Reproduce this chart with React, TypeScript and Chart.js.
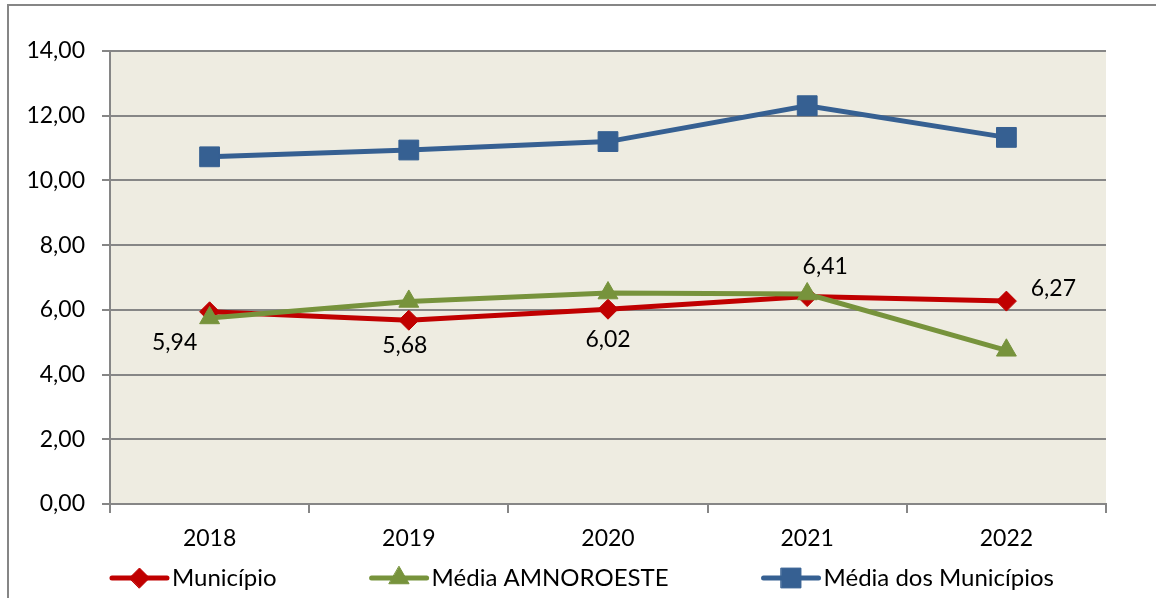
import React, { useEffect, useRef } from 'react';
import { Chart, registerables } from 'chart.js';
import { drawPoint } from 'chart.js/helpers';

Chart.register(...registerables);

const categories = ['2018', '2019', '2020', '2021', '2022'];
const seriesNames = ['Município', 'Média AMNOROESTE', 'Média dos Municípios'];
const municipio = [5.94, 5.68, 6.02, 6.41, 6.27];
const mediaAmnoroeste = [5.75, 6.26, 6.52, 6.49, 4.75];
const mediaMunicipios = [10.73, 10.94, 11.2, 12.31, 11.33];
const yMin = 0;
const yMax = 14;
const yStep = 2;

// styling (not data)
const FONT = 'Lato';
const FS = 23;
const LEGEND_FS = 24;
const GRID = '#868686';
const COLORS = ['#C00000', '#77933C', '#366092'];
const STYLES = ['rectRot', 'triangle', 'rect'];
const RADII = [10, 11.5, 14];
const LABEL_OFFSETS: [number, number][] = [[-35, 31], [-4, 25], [0, 30], [18, -30], [47, -13]];

const fmt = (v: number) => v.toFixed(2).replace('.', ',');

const bgPlugin = {
  id: 'bgPlugin',
  beforeDraw(chart: any) {
    const { ctx, chartArea: a } = chart;
    ctx.save();
    ctx.fillStyle = '#EEECE1';
    ctx.fillRect(a.left, a.top, a.right - a.left, a.bottom - a.top);
    ctx.restore();
  },
  afterDraw(chart: any) {
    const { ctx } = chart;
    ctx.save();
    ctx.strokeStyle = GRID;
    ctx.lineWidth = 2;
    ctx.beginPath();
    ctx.moveTo(8, 700);
    ctx.lineTo(8, 5);
    ctx.lineTo(1200, 5);
    ctx.stroke();
    ctx.restore();
  },
};

const labelsPlugin = {
  id: 'labelsPlugin',
  afterDatasetsDraw(chart: any) {
    const { ctx } = chart;
    const meta = chart.getDatasetMeta(0);
    const data = chart.data.datasets[0].data as number[];
    ctx.save();
    ctx.font = `${FS}px ${FONT}`;
    ctx.fillStyle = '#000';
    ctx.textAlign = 'center';
    ctx.textBaseline = 'middle';
    meta.data.forEach((pt: any, i: number) => {
      const [dx, dy] = LABEL_OFFSETS[i];
      ctx.fillText(fmt(data[i]), pt.x + dx, pt.y + dy);
    });
    ctx.restore();
  },
};

const legendPlugin = {
  id: 'customLegend',
  afterDraw(chart: any) {
    const { ctx } = chart;
    const ds = chart.data.datasets;
    ctx.save();
    ctx.font = `${LEGEND_FS}px ${FONT}`;
    const lineLen = 55;
    const gapText = 5;
    const gapItem = 95;
    const widths = ds.map((d: any) => lineLen + gapText + ctx.measureText(d.label).width);
    const total = widths.reduce((s: number, w: number) => s + w, 0) + gapItem * (ds.length - 1);
    let x = 583 - total / 2;
    const y = 578;
    ds.forEach((d: any, i: number) => {
      ctx.strokeStyle = d.borderColor;
      ctx.lineWidth = 5;
      ctx.lineCap = 'round';
      ctx.beginPath();
      ctx.moveTo(x, y);
      ctx.lineTo(x + lineLen, y);
      ctx.stroke();
      ctx.fillStyle = d.pointBackgroundColor;
      ctx.strokeStyle = d.pointBorderColor;
      ctx.lineWidth = 1;
      drawPoint(ctx, { pointStyle: d.pointStyle, radius: d.pointRadius, rotation: 0, borderWidth: 1 }, x + lineLen / 2, y);
      ctx.fillStyle = '#000';
      ctx.textAlign = 'left';
      ctx.textBaseline = 'middle';
      ctx.fillText(d.label, x + lineLen + gapText, y);
      x += widths[i] + gapItem;
    });
    ctx.restore();
  },
};

export default function App() {
  const ref = useRef<HTMLCanvasElement | null>(null);
  useEffect(() => {
    document.body.style.margin = '0';
    const series = [municipio, mediaAmnoroeste, mediaMunicipios];
    const chart = new Chart(ref.current as HTMLCanvasElement, {
      type: 'line',
      data: {
        labels: categories,
        datasets: series.map((s, i) => ({
          label: seriesNames[i],
          data: s,
          borderColor: COLORS[i],
          backgroundColor: COLORS[i],
          pointBackgroundColor: COLORS[i],
          pointBorderColor: COLORS[i],
          pointStyle: STYLES[i] as any,
          pointRadius: RADII[i],
          pointBorderWidth: 1,
          borderWidth: 5,
          tension: 0,
          order: 2 - i,
        })),
      },
      options: {
        responsive: false,
        animation: false,
        layout: { padding: { left: 0, top: 51, right: 50, bottom: 0 } },
        plugins: { legend: { display: false }, tooltip: { enabled: false }, title: { display: false } },
        scales: {
          x: {
            type: 'category',
            offset: true,
            afterFit: (s: any) => { s.height = 94; },
            grid: { drawOnChartArea: false, drawTicks: true, tickLength: 9, color: GRID, lineWidth: 2, offset: true },
            border: { display: true, color: GRID, width: 2 },
            ticks: { color: '#000', font: { family: FONT, size: FS }, padding: 12, maxRotation: 0 },
          },
          y: {
            min: yMin,
            max: yMax,
            afterFit: (s: any) => { s.width = 110; },
            grid: { color: GRID, lineWidth: 2, tickLength: 8, drawTicks: true },
            border: { display: true, color: GRID, width: 2 },
            ticks: {
              stepSize: yStep,
              color: '#000',
              font: { family: FONT, size: FS },
              padding: 17,
              callback: (v: any) => fmt(Number(v)),
            },
          },
        },
      },
      plugins: [bgPlugin, labelsPlugin, legendPlugin],
    });
    return () => chart.destroy();
  }, []);
  return (
    <div style={{ position: 'fixed', left: 0, top: 0, width: 1156, height: 598, overflow: 'hidden', background: '#fff' }}>
      <canvas ref={ref} width={1156} height={598} style={{ width: 1156, height: 598, display: 'block' }} />
    </div>
  );
}
